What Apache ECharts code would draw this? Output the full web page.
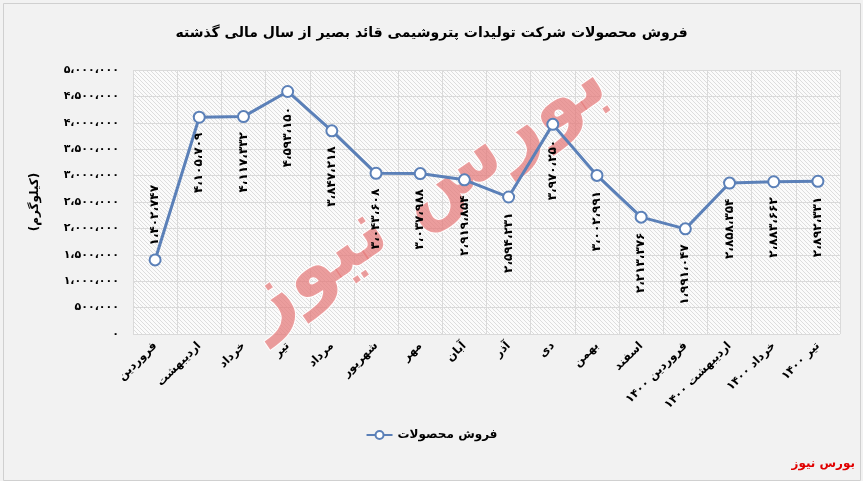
<!DOCTYPE html>
<html><head><meta charset="utf-8">
<script src="https://cdn.jsdelivr.net/npm/echarts@6/dist/echarts.min.js"></script>
<style>html,body{margin:0;padding:0;background:#f2f2f2}#c{width:863px;height:481px}</style>
</head><body><div id="c"></div>
<script>
const titleText = 'فروش محصولات شرکت تولیدات پتروشیمی قائد بصیر از سال مالی گذشته';
const seriesName = 'فروش محصولات';
const yAxisName = '(کیلوگرم)';
const sourceText = 'بورس نیوز';
const categories = ['فروردین','اردیبهشت','خرداد','تیر','مرداد','شهریور','مهر','آبان','آذر','دی','بهمن','اسفند','فروردین ۱۴۰۰','اردیبهشت ۱۴۰۰','خرداد ۱۴۰۰','تیر ۱۴۰۰'];
const sales = [1402747,4105709,4117332,4593150,3847218,3043608,3037988,2919854,2594231,3970250,3002991,2213376,1991047,2858354,2883662,2892331];
const labelAbove = [true,false,false,false,false,false,false,false,false,false,false,false,false,false,false,false];
const yTicks = {min:0,max:5000000,interval:500000};

const FONT = 'DejaVu Sans';
function fa(n){
  const s = String(n).replace(/\B(?=(\d{3})+(?!\d))/g,'،');
  return s.replace(/\d/g,d=>'۰۱۲۳۴۵۶۷۸۹'[d]);
}
// hatch pattern
const pc = document.createElement('canvas');
pc.width = 4; pc.height = 4;
const g = pc.getContext('2d');
g.fillStyle = '#fbfbfb'; g.fillRect(0,0,4,4);
g.fillStyle = '#dddddd';
for (let i=0;i<4;i++){ g.fillRect(i,i,1,1); }

const data = sales.map((v,i)=>({
  value:v,
  label: labelAbove[i]
    ? {position:'top', align:'left', distance:8}
    : {position:'bottom', align:'right', distance:9}
}));

const chart = echarts.init(document.getElementById('c'));
chart.setOption({
  backgroundColor:'#f2f2f2',
  animation:false,
  title:{text:titleText,left:'center',top:21,textStyle:{fontFamily:FONT,fontSize:14,fontWeight:'bold',color:'#000'}},
  grid:{left:133,right:23,top:70,bottom:147,show:true,borderWidth:0,backgroundColor:{image:pc,repeat:'repeat'}},
  legend:{data:[seriesName],left:'center',top:424,itemWidth:26,itemHeight:10,textStyle:{fontFamily:FONT,fontSize:12,fontWeight:'bold',color:'#000'}},
  xAxis:{type:'category',data:categories,boundaryGap:true,
    axisLine:{show:false},axisTick:{show:false},
    splitLine:{show:true,lineStyle:{color:'#dadada',width:1}},
    axisLabel:{rotate:45,interval:0,margin:10,fontFamily:FONT,fontSize:11.5,fontWeight:'bold',color:'#000',
      formatter:v=>'\u202B'+v+'\u202C'}},
  yAxis:{type:'value',min:yTicks.min,max:yTicks.max,interval:yTicks.interval,
    name:yAxisName,nameLocation:'middle',nameRotate:90,nameGap:92,
    nameTextStyle:{fontFamily:FONT,fontSize:12,fontWeight:'bold',color:'#000'},
    axisLine:{show:false},axisTick:{show:false},
    splitLine:{show:true,lineStyle:{color:'#dadada',width:1}},
    axisLabel:{margin:14,fontFamily:FONT,fontSize:11,fontWeight:'bold',color:'#000',formatter:v=>fa(v)}},
  graphic:[
    {type:'rect',left:1,top:1,shape:{width:857,height:477},style:{fill:'none',stroke:'#d0d0d0',lineWidth:1},silent:true,z:-1},
    {type:'text',x:425,y:195,rotation:0.6,z:1,silent:true,
      style:{text:'بورس نیوز',font:'bold 80px '+FONT,fill:'rgba(228,120,120,0.72)',align:'center',verticalAlign:'middle',
        stroke:'rgba(255,255,255,0.9)',lineWidth:2,
        shadowColor:'rgba(0,0,0,0.2)',shadowBlur:3,shadowOffsetX:1,shadowOffsetY:2}},
    {type:'text',right:8,top:458,silent:true,style:{text:sourceText,font:'bold 12px '+FONT,fill:'#e00000'}}
  ],
  series:[{
    name:seriesName,type:'line',data:data,z:3,
    symbol:'circle',symbolSize:11,showAllSymbol:true,
    lineStyle:{color:'#5b80b8',width:3},
    itemStyle:{color:'#ffffff',borderColor:'#5b80b8',borderWidth:2},
    label:{show:true,rotate:90,verticalAlign:'middle',fontFamily:FONT,fontSize:12,fontWeight:'bold',color:'#000',formatter:p=>fa(p.value)}
  }]
});
</script></body></html>
